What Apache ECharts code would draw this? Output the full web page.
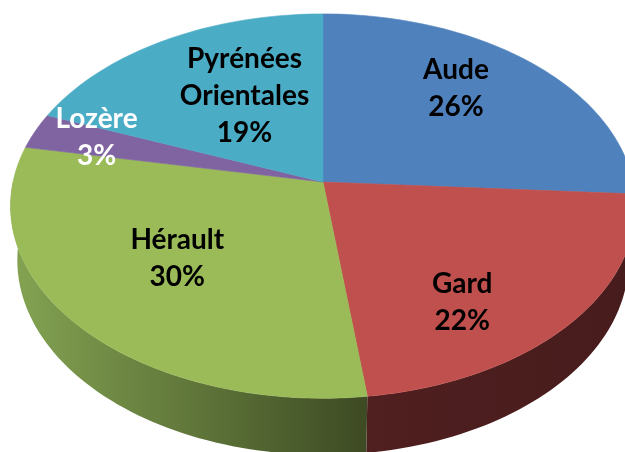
<!DOCTYPE html>
<html>
<head>
<meta charset="utf-8">
<script src="https://cdn.jsdelivr.net/npm/echarts@6/dist/echarts.min.js"></script>
<style>
  html, body { margin: 0; padding: 0; background: #ffffff; }
  #chart { width: 625px; height: 452px; }
</style>
</head>
<body>
<div id="chart"></div>
<script>
// Départements and their share of the total (%)
const categories = ['Aude', 'Gard', 'Hérault', 'Lozère', 'Pyrénées Orientales'];
const shares = [26, 22, 30, 3, 19];

// Colours of the top faces, side walls and labels
const topColors = ['#4F81BD', '#C0504D', '#9BBB59', '#8064A2', '#4BACC6'];
const sideStops = [
  ['#2F4D72', '#2F4D72'],
  ['#501F20', '#471C1C'],
  ['#84A452', '#3D4A23'],
  ['#4C3C61', '#4C3C61'],
  ['#2D6777', '#2D6777']
];
const labelColors = ['#000000', '#000000', '#000000', '#FFFFFF', '#000000'];
// Label anchor per slice: [angle shift from the mid angle (deg), fraction of the radius]
const labelSpots = [[-6, 0.70], [11.5, 0.72], [2.5, 0.59], [1.5, 0.79], [5, 0.55]];

// Tilted disc seen in perspective
const view = { cx: 323, cy: 182, R: 310, H: 70, tilt: 37.6 * Math.PI / 180, D: 1960 };

function project(thetaDeg, r, t) {
  const a = thetaDeg * Math.PI / 180;
  const u = r * Math.sin(a);
  const v = -r * Math.cos(a);
  const sa = Math.sin(view.tilt), ca = Math.cos(view.tilt);
  const yw = v * sa + t * ca;
  const z = v * ca - t * sa;
  const s = view.D / (view.D - z);
  return [view.cx + u * s, view.cy + yw * s];
}

const total = shares.reduce((a, b) => a + b, 0);
const bounds = [];
let acc = 0;
shares.forEach(v => {
  const a0 = acc / total * 360;
  acc += v;
  bounds.push([a0, acc / total * 360]);
});

function arc(a0, a1, r, t) {
  const pts = [];
  const n = Math.max(2, Math.ceil((a1 - a0) / 1.5));
  for (let k = 0; k <= n; k++) pts.push(project(a0 + (a1 - a0) * k / n, r, t));
  return pts;
}

function renderWall(params) {
  const i = params.dataIndex;
  const lo = Math.max(bounds[i][0], 90);
  const hi = Math.min(bounds[i][1], 270);
  if (lo >= hi) return { type: 'group', children: [] };
  const topArc = arc(lo, hi, view.R, 0);
  const botArc = arc(lo, hi, view.R, view.H).reverse();
  const pts = topArc.concat(botArc);
  const xs = pts.map(p => p[0]);
  const x0 = Math.min.apply(null, xs), x1 = Math.max.apply(null, xs);
  return {
    type: 'polygon',
    shape: { points: pts },
    style: {
      fill: new echarts.graphic.LinearGradient(x0, 0, x1, 0, [
        { offset: 0, color: sideStops[i][0] },
        { offset: 1, color: sideStops[i][1] }
      ], true),
      stroke: null
    }
  };
}

function renderFace(params) {
  const i = params.dataIndex;
  const [a0, a1] = bounds[i];
  const pts = [project(0, 0, 0)].concat(arc(a0, a1, view.R, 0));
  const mid = (a0 + a1) / 2 + labelSpots[i][0];
  const lp = project(mid, view.R * labelSpots[i][1], 0);
  return {
    type: 'group',
    children: [
      {
        type: 'polygon',
        shape: { points: pts },
        style: { fill: topColors[i], stroke: topColors[i], lineWidth: 0.6 }
      },
      {
        type: 'text',
        z2: 10,
        x: lp[0],
        y: lp[1],
        style: {
          text: categories[i].replace(' ', '\n') + '\n' + shares[i] + '%',
          fill: labelColors[i],
          fontFamily: 'Lato',
          fontWeight: 'bold',
          fontSize: 28,
          lineHeight: 37,
          align: 'center',
          verticalAlign: 'middle'
        }
      }
    ]
  };
}

const chart = echarts.init(document.getElementById('chart'), null, { renderer: 'canvas' });
const seriesData = shares.map((v, i) => ({ name: categories[i], value: v }));
chart.setOption({
  animation: false,
  backgroundColor: '#ffffff',
  series: [
    { type: 'custom', coordinateSystem: 'none', renderItem: renderWall, data: seriesData, z: 1, silent: true },
    { type: 'custom', coordinateSystem: 'none', renderItem: renderFace, data: seriesData, z: 2, silent: true }
  ]
});
</script>
</body>
</html>
